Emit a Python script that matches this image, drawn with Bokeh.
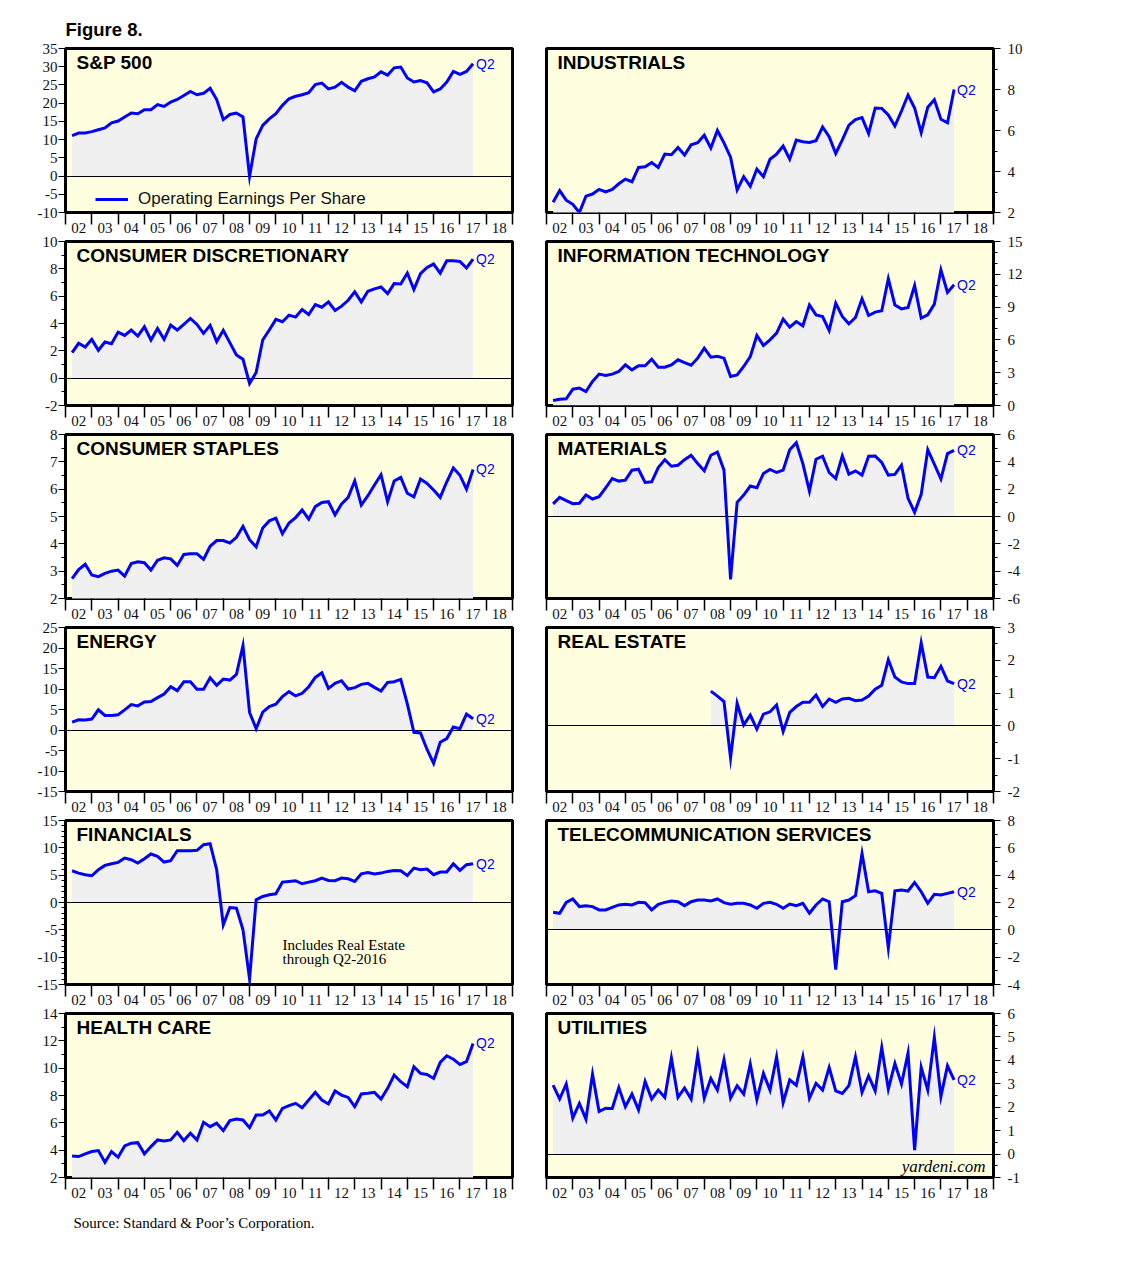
from bokeh.plotting import figure
from bokeh.models import Range1d, FixedTicker, Label, Legend, LegendItem, Title, LinearAxis
from bokeh.layouts import column, row
from bokeh.embed import file_html
from bokeh.resources import INLINE

# ---------------- data ----------------
axis_years = list(range(2002, 2019))
year_labels = ["02", "03", "04", "05", "06", "07", "08", "09", "10",
               "11", "12", "13", "14", "15", "16", "17", "18"]
quarters = [(y, q) for y in range(2002, 2018) for q in range(1, 5)][:62]   # 2002Q1 .. 2017Q2
qx = [y - 0.5 + q / 4.0 for (y, q) in quarters]

sp500 = [11.1, 11.8, 11.8, 12.2, 12.7, 13.2, 14.6, 15.1, 16.2, 17.3, 17.1, 18.2,
         18.2, 19.6, 19.1, 20.3, 21.0, 22.1, 23.2, 22.3, 22.7, 24.1, 21.0, 15.5,
         16.9, 17.3, 16.2, -0.1, 10.2, 13.9, 15.7, 17.1, 19.4, 21.2, 21.9, 22.3,
         22.9, 25.1, 25.5, 23.9, 24.4, 25.7, 24.4, 23.4, 26.0, 26.7, 27.2, 28.6,
         27.7, 29.7, 29.9, 26.9, 25.8, 26.2, 25.6, 23.1, 23.9, 25.8, 28.7, 27.9,
         28.7, 30.8]
industrials = [2.5, 3.07, 2.6, 2.4, 2.0, 2.8, 2.9, 3.13, 3.0, 3.13, 3.4, 3.63,
               3.5, 4.2, 4.23, 4.44, 4.2, 4.85, 4.82, 5.17, 4.8, 5.3, 5.4, 5.77,
               5.14, 6.0, 5.4, 4.7, 3.1, 3.75, 3.28, 4.12, 3.75, 4.6, 4.85, 5.24,
               4.6, 5.53, 5.45, 5.42, 5.5, 6.17, 5.7, 4.88, 5.54, 6.26, 6.53, 6.63,
               5.85, 7.1, 7.08, 6.76, 6.22, 6.95, 7.73, 7.1, 5.9, 7.14, 7.5, 6.55,
               6.38, 8.0]
cons_disc = [1.87, 2.55, 2.28, 2.84, 2.04, 2.65, 2.52, 3.37, 3.13, 3.52, 3.08, 3.76,
             2.79, 3.64, 2.84, 3.88, 3.52, 3.93, 4.37, 3.93, 3.28, 3.86, 2.67, 3.5,
             2.6, 1.7, 1.38, -0.39, 0.41, 2.79, 3.52, 4.3, 4.13, 4.61, 4.47, 5.02,
             4.66, 5.39, 5.19, 5.58, 4.95, 5.27, 5.7, 6.31, 5.58, 6.36, 6.53, 6.67,
             6.19, 6.92, 6.89, 7.69, 6.48, 7.65, 8.1, 8.35, 7.69, 8.59, 8.59, 8.54,
             8.06, 8.71]
info_tech = [0.46, 0.58, 0.61, 1.49, 1.59, 1.28, 2.2, 2.87, 2.74, 2.87, 3.11, 3.72,
             3.26, 3.63, 3.63, 4.24, 3.5, 3.5, 3.72, 4.18, 3.93, 3.69, 4.33, 5.24,
             4.42, 4.51, 4.33, 2.65, 2.8, 3.57, 4.48, 6.4, 5.49, 6.0, 6.62, 7.9,
             7.16, 7.68, 7.29, 9.2, 8.29, 8.14, 6.86, 9.36, 8.14, 7.47, 8.05, 9.76,
             8.23, 8.54, 8.66, 11.59, 9.2, 8.84, 8.96, 10.98, 7.99, 8.29, 9.27, 12.41,
             10.34, 11.04]
cons_staples = [2.73, 3.06, 3.25, 2.86, 2.8, 2.92, 3.0, 3.04, 2.82, 3.28, 3.34, 3.31,
                3.04, 3.4, 3.49, 3.45, 3.21, 3.61, 3.64, 3.64, 3.43, 3.91, 4.12, 4.12,
                4.03, 4.24, 4.64, 4.15, 3.89, 4.58, 4.84, 4.94, 4.37, 4.76, 4.96, 5.24,
                4.9, 5.36, 5.51, 5.54, 5.06, 5.46, 5.7, 6.3, 5.42, 5.76, 6.15, 6.53,
                5.54, 6.3, 6.43, 5.85, 5.72, 6.37, 6.21, 5.97, 5.7, 6.27, 6.78, 6.51,
                6.0, 6.72]
materials = [0.92, 1.4, 1.16, 0.94, 0.97, 1.57, 1.28, 1.45, 2.1, 2.78, 2.59, 2.66,
             3.39, 3.46, 2.49, 2.54, 3.58, 4.16, 3.68, 3.75, 4.16, 4.48, 3.87, 3.34,
             4.48, 4.72, 3.39, -4.6, 1.04, 1.57, 2.23, 2.1, 3.15, 3.44, 3.22, 3.39,
             4.89, 5.4, 3.87, 1.86, 4.19, 4.41, 3.22, 2.78, 4.43, 3.1, 3.34, 3.03,
             4.41, 4.43, 3.95, 3.03, 3.08, 3.75, 1.33, 0.31, 1.62, 4.89, 3.83, 2.74,
             4.6, 4.84]
energy = [1.94, 2.5, 2.42, 2.66, 4.92, 3.55, 3.55, 3.71, 4.92, 6.21, 5.89, 6.85,
          6.94, 7.9, 8.79, 10.56, 9.6, 11.77, 11.77, 9.92, 9.92, 12.74, 10.89, 12.42,
          12.18, 13.55, 20.6, 4.27, 0.32, 4.35, 5.73, 6.29, 8.15, 9.35, 8.31, 8.95,
          10.56, 12.82, 13.95, 10.16, 11.37, 12.02, 10.0, 10.32, 11.13, 11.37, 10.4, 9.52,
          11.61, 11.77, 12.34, 6.37, -0.56, -0.73, -4.76, -8.15, -2.98, -2.1, 0.73, 0.32,
          3.87, 2.74]
# Real Estate sector series starts in 2008 Q1
real_estate_start = 24
real_estate = [1.06, 0.91, 0.74, -0.98, 0.69, 0.03, 0.33, -0.1, 0.36, 0.43, 0.64, -0.17,
               0.41, 0.59, 0.72, 0.72, 0.94, 0.59, 0.82, 0.72, 0.82, 0.84, 0.77, 0.79,
               0.91, 1.12, 1.24, 2.02, 1.49, 1.34, 1.29, 1.29, 2.53, 1.49, 1.47, 1.82,
               1.37, 1.29]
financials = [5.81, 5.38, 5.08, 4.89, 5.99, 6.79, 7.09, 7.34, 8.13, 7.83, 7.22, 8.01,
              8.87, 8.44, 7.4, 7.65, 9.48, 9.48, 9.48, 9.54, 10.58, 10.76, 5.99, -4.1,
              -0.92, -1.04, -5.0, -14.0, 0.49, 1.1, 1.41, 1.59, 3.73, 3.85, 3.98, 3.43,
              3.73, 3.98, 4.46, 4.04, 3.98, 4.46, 4.34, 3.85, 5.26, 5.5, 5.2, 5.38,
              5.69, 5.87, 5.81, 4.95, 6.3, 5.99, 6.12, 5.08, 5.57, 5.57, 7.09, 5.87,
              6.91, 7.09]
telecom = [1.29, 1.21, 2.01, 2.26, 1.7, 1.77, 1.7, 1.46, 1.46, 1.65, 1.82, 1.87,
           1.82, 2.01, 1.99, 1.46, 1.87, 2.01, 2.11, 2.06, 1.77, 2.06, 2.18, 2.18,
           2.11, 2.26, 1.99, 1.87, 1.94, 1.94, 1.82, 1.58, 1.94, 2.01, 1.87, 1.58,
           1.89, 1.77, 1.94, 1.21, 1.82, 2.26, 2.06, -2.91, 2.06, 2.18, 2.5, 5.58,
           2.79, 2.86, 2.67, -1.33, 2.86, 2.91, 2.84, 3.47, 2.79, 1.94, 2.6, 2.55,
           2.67, 2.79]
health_care = [3.58, 3.53, 3.73, 3.9, 3.97, 3.12, 3.9, 3.48, 4.31, 4.51, 4.55, 3.73,
               4.26, 4.75, 4.68, 4.75, 5.31, 4.7, 5.24, 4.75, 6.04, 5.72, 5.97, 5.43,
               6.16, 6.28, 6.21, 5.65, 6.57, 6.57, 6.87, 6.21, 7.06, 7.26, 7.43, 7.11,
               7.67, 8.23, 7.67, 7.38, 8.33, 8.03, 7.86, 7.18, 8.11, 8.16, 8.23, 7.74,
               8.52, 9.49, 9.01, 8.64, 10.1, 9.62, 9.54, 9.25, 10.42, 10.91, 10.66, 10.27,
               10.47, 11.81]
utilities = [2.94, 2.35, 2.99, 1.54, 2.16, 1.49, 3.41, 1.82, 1.96, 1.95, 2.84, 2.02,
             2.56, 1.89, 3.1, 2.35, 2.73, 2.42, 4.1, 2.42, 2.82, 2.35, 4.24, 2.39,
             3.23, 2.73, 4.03, 2.39, 2.92, 2.56, 3.84, 2.32, 3.44, 2.73, 4.15, 2.2,
             3.17, 2.94, 4.15, 2.38, 3.02, 2.73, 3.7, 2.7, 2.59, 2.92, 4.15, 2.63,
             3.34, 2.7, 4.55, 2.77, 3.87, 2.99, 4.31, 0.17, 3.7, 2.73, 4.98, 2.45,
             3.77, 3.17]

last_label = "Q2"

# (title, values, x-start index, side, y-range, major ticks, minor ticks)
panels = [
    ("S&P 500", sp500, 0, "left", (-10, 35), list(range(-10, 36, 5)), []),
    ("INDUSTRIALS", industrials, 0, "right", (2, 10), list(range(2, 11, 2)), [3, 5, 7, 9]),
    ("CONSUMER DISCRETIONARY", cons_disc, 0, "left", (-2, 10), list(range(-2, 11, 2)), list(range(-1, 10, 2))),
    ("INFORMATION TECHNOLOGY", info_tech, 0, "right", (0, 15), list(range(0, 16, 3)), list(range(0, 16))),
    ("CONSUMER STAPLES", cons_staples, 0, "left", (2, 8), list(range(2, 9)), [2.5 + i for i in range(6)]),
    ("MATERIALS", materials, 0, "right", (-6, 6), list(range(-6, 7, 2)), list(range(-5, 6, 2))),
    ("ENERGY", energy, 0, "left", (-15, 25), list(range(-15, 26, 5)), []),
    ("REAL ESTATE", real_estate, real_estate_start, "right", (-2, 3), list(range(-2, 4)), [-1.5 + i for i in range(5)]),
    ("FINANCIALS", financials, 0, "left", (-15, 15), list(range(-15, 16, 5)), list(range(-15, 16))),
    ("TELECOMMUNICATION SERVICES", telecom, 0, "right", (-4, 8), list(range(-4, 9, 2)), list(range(-3, 8, 2))),
    ("HEALTH CARE", health_care, 0, "left", (2, 14), list(range(2, 15, 2)), list(range(3, 14, 2))),
    ("UTILITIES", utilities, 0, "right", (-1, 6), list(range(-1, 7)), [-0.5 + i for i in range(7)]),
]

BLUE = "#0000FF"
YELLOW = "#FFFFE0"
GRAY = "#F0F0F0"
SANS = "Liberation Sans"
SERIF = "Liberation Serif"
TXT = "#111111"
FW, FH = 447, 164
TOPS = [48, 6, 6, 6, 6, 6]
BOTTOMS = [23, 23, 23, 23, 23, 72]


def make_panel(idx, spec):
    title, vals, start, side, yr, major, minor = spec
    rownum = idx // 2
    if side == "left":
        bl, br = 65, 16
    else:
        bl, br = 18, 40
    p = figure(frame_width=FW, frame_height=FH,
               x_range=Range1d(2001.5, 2018.5), y_range=Range1d(yr[0], yr[1]),
               x_axis_location=None, y_axis_location=None,
               output_backend="svg", toolbar_location=None,
               min_border_left=bl, min_border_right=br,
               min_border_top=TOPS[rownum], min_border_bottom=BOTTOMS[rownum])
    p.background_fill_color = YELLOW
    p.border_fill_color = "white"
    p.outline_line_color = "black"
    p.outline_line_width = 3
    p.grid.visible = False

    xs = qx[start:start + len(vals)]

    # x axis: year labels centred, boundary ticks as minor ticks
    xa = LinearAxis(ticker=FixedTicker(ticks=axis_years,
                                       minor_ticks=[y - 0.5 for y in axis_years] + [axis_years[-1] + 0.5]))
    xa.major_label_overrides = {y: lab for y, lab in zip(axis_years, year_labels)}
    xa.axis_line_color = None
    xa.major_tick_line_color = None
    xa.major_tick_in = 0
    xa.major_tick_out = 0
    xa.minor_tick_in = 0
    xa.minor_tick_out = 12
    xa.minor_tick_line_width = 1.5
    xa.minor_tick_line_color = "black"
    xa.major_label_standoff = -2
    xa.major_label_text_font = SERIF
    xa.major_label_text_font_size = "15px"
    xa.major_label_text_color = TXT
    p.add_layout(xa, "below")

    ya = LinearAxis(ticker=FixedTicker(ticks=major, minor_ticks=minor))
    ya.major_label_overrides = {v: str(v) for v in major}   # plain hyphen for negatives
    ya.axis_line_color = None
    ya.major_tick_in = 0
    ya.major_tick_out = 7
    ya.minor_tick_in = 0
    ya.minor_tick_out = 4
    ya.major_tick_line_color = "black"
    ya.minor_tick_line_color = "black"
    ya.major_label_standoff = 1 if side == "left" else 7
    ya.major_label_text_font = SERIF
    ya.major_label_text_font_size = "15px"
    ya.major_label_text_color = TXT
    p.add_layout(ya, side)

    p.varea(x=xs, y1=[0] * len(vals), y2=vals, fill_color=GRAY)
    if yr[0] < 0 < yr[1]:
        p.hspan(y=[0], line_color="black", line_width=1)
    r = p.line(xs, vals, line_color=BLUE, line_width=3, line_join="miter")

    p.add_layout(Label(x=11, y=FH - 3, x_units="screen", y_units="screen", text=title,
                       text_baseline="top", text_align="left", text_font=SANS,
                       text_font_style="bold", text_font_size="19px", text_color="black"))
    p.add_layout(Label(x=xs[-1], y=vals[-1], x_offset=3, text=last_label,
                       text_baseline="middle", text_align="left", text_font=SANS,
                       text_font_size="14px", text_color=BLUE))
    return p, r


figs = []
for i, spec in enumerate(panels):
    figs.append(make_panel(i, spec))

# S&P 500 extras: figure title and legend
p0, r0 = figs[0]
p0.title = Title(text="Figure 8.", align="left", text_font=SANS, text_font_style="bold",
                 text_font_size="18.5px", text_color="black", standoff=18)
legend = Legend(items=[LegendItem(label="Operating Earnings Per Share", renderers=[r0])],
                location=(30, 3), border_line_color=None, background_fill_alpha=0,
                padding=0, margin=0, spacing=0, glyph_width=33, glyph_height=20,
                label_standoff=10, label_text_font=SANS, label_text_font_size="17px",
                label_text_color=TXT)
p0.add_layout(legend)

# Financials note
pf, _ = figs[8]
pf.add_layout(Label(x=217, y=40, x_units="screen", y_units="screen", text="Includes Real Estate",
                    text_baseline="middle", text_font=SERIF, text_font_size="15px", text_color="black"))
pf.add_layout(Label(x=217, y=26, x_units="screen", y_units="screen", text="through Q2-2016",
                    text_baseline="middle", text_font=SERIF, text_font_size="15px", text_color="black"))

# Utilities watermark
pu, _ = figs[11]
pu.add_layout(Label(x=FW - 8, y=11, x_units="screen", y_units="screen", text="yardeni.com",
                    text_baseline="middle", text_align="right", text_font=SERIF,
                    text_font_style="italic", text_font_size="17px", text_color="black"))

# Source note
ph, _ = figs[10]
ph.add_layout(Title(text="Source: Standard & Poor\u2019s Corporation.", align="left", offset=8,
                    text_font=SERIF, text_font_style="normal", text_font_size="15px",
                    text_color="black", standoff=25), "below")

layout = column(*[row(figs[2 * k][0], figs[2 * k + 1][0]) for k in range(6)])

open("out.html", "w").write(file_html(layout, INLINE))
